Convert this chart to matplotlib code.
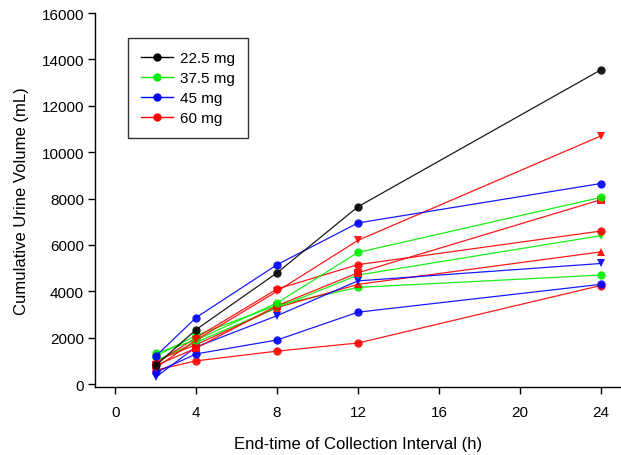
import matplotlib
matplotlib.use("Agg")
import matplotlib.pyplot as plt
from matplotlib.lines import Line2D

plt.rcParams['font.family'] = ['Liberation Sans', 'DejaVu Sans']

# Sammelzeitpunkte (Ende des Intervalls, h)
hours = [2, 4, 8, 12, 24]

# Kumulatives Urinvolumen (mL) je Proband
black_circle = [800, 2350, 4800, 7650, 13550]

green_circle_a = [1330, 1900, 3500, 5680, 8050]
green_tri_down = [1000, 1800, 3300, 4700, 6400]
green_circle_b = [1200, 2100, 3400, 4170, 4700]

blue_circle_a = [1200, 2870, 5150, 6950, 8650]
blue_tri_down = [300, 1600, 2950, 4450, 5200]
blue_circle_b = [500, 1300, 1900, 3100, 4300]

red_tri_down = [700, 1900, 4000, 6200, 10700]
red_square = [800, 1550, 3380, 4800, 7950]
red_circle_a = [900, 2000, 4100, 5150, 6600]
red_tri_up = [1000, 1700, 3300, 4300, 5700]
red_circle_b = [600, 1000, 1420, 1770, 4250]

dose_labels = ["22.5 mg", "37.5 mg", "45 mg", "60 mg"]
dose_colors = ["black", "#00ee00", "#0000ff", "#ff0000"]

series = [
    (red_circle_b, "#ff0000", "o"),
    (blue_circle_b, "#0000ff", "o"),
    (green_circle_b, "#00ee00", "o"),
    (red_tri_up, "#ff0000", "^"),
    (blue_tri_down, "#0000ff", "v"),
    (green_tri_down, "#00ee00", "v"),
    (red_circle_a, "#ff0000", "o"),
    (red_square, "#ff0000", "s"),
    (green_circle_a, "#00ee00", "o"),
    (red_tri_down, "#ff0000", "v"),
    (blue_circle_a, "#0000ff", "o"),
    (black_circle, "black", "o"),
]

fig = plt.figure(figsize=(6.21, 4.56), dpi=100)
ax = fig.add_axes([0.153, 0.149, 0.847, 0.82])

for values, color, marker in series:
    ax.plot(hours, values, color=color, marker=marker, markersize=6,
            linewidth=0.9, markeredgewidth=0, alpha=0.9)

ax.set_xlim(-1, 25)
ax.set_ylim(-130, 16000)
ax.set_xticks([0, 4, 8, 12, 16, 20, 24])
ax.set_yticks(range(0, 16001, 2000))

for side in ["top", "right"]:
    ax.spines[side].set_visible(False)
for side in ["left", "bottom"]:
    ax.spines[side].set_linewidth(1.0)
ax.tick_params(direction="out", length=5, width=1, labelsize=11)
ax.tick_params(axis="x", pad=8)
ax.tick_params(axis="y", pad=3)

ax.set_xlabel("End-time of Collection Interval (h)", fontsize=12, labelpad=12)
ax.set_ylabel("Cumulative Urine Volume (mL)", fontsize=12, labelpad=9)

handles = [Line2D([0], [0], color=c, marker="o", markersize=6, linewidth=1,
                  markeredgewidth=0) for c in dose_colors]
leg = ax.legend(handles, dose_labels, loc="upper left",
                bbox_to_anchor=(128 / 621, 1 - 39 / 456),
                bbox_transform=fig.transFigure, fontsize=11,
                frameon=True, fancybox=False, borderpad=0.85,
                handlelength=2.1, handletextpad=0.45, labelspacing=0.4,
                borderaxespad=0)
leg.get_frame().set_edgecolor("black")
leg.get_frame().set_linewidth(1.0)

fig.savefig("out.png", dpi=100)
